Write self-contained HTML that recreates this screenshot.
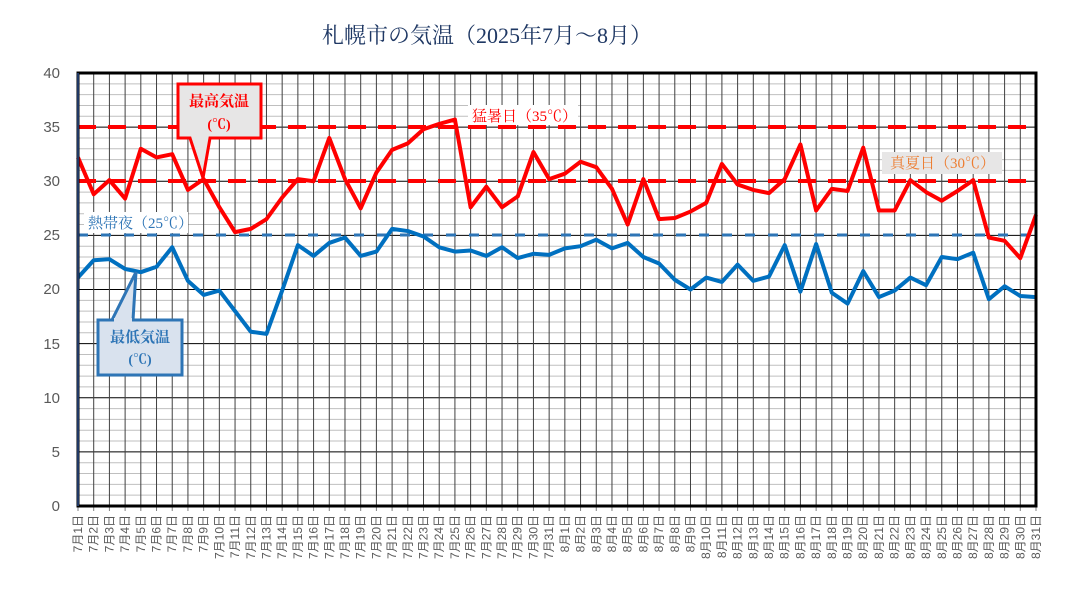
<!DOCTYPE html>
<html><head><meta charset="utf-8"><style>
body{margin:0;background:#fff;width:1074px;height:590px;overflow:hidden;font-family:"Liberation Serif","Noto Serif CJK SC",serif}
svg text{font-family:"Liberation Serif","Noto Serif CJK SC",serif}
svg .xl text{font-family:"Liberation Sans","Noto Sans CJK JP",sans-serif;font-size:12px;fill:#595959}
svg .yl text{font-family:"Liberation Sans",sans-serif;font-size:15px;fill:#595959}
</style></head><body>
<svg id="s" width="1074" height="590" xmlns="http://www.w3.org/2000/svg">
<text x="487" y="43" text-anchor="middle" font-size="22" fill="#1F3864">札幌市の気温（2025年7月～8月）</text>
<g id="grid"></g>
<g class="yl" text-anchor="end">
<text x="60" y="511">0</text><text x="60" y="457">5</text><text x="60" y="403">10</text><text x="60" y="349">15</text><text x="60" y="294">20</text><text x="60" y="240">25</text><text x="60" y="186">30</text><text x="60" y="132">35</text><text x="60" y="78">40</text>
</g>
<g id="xl" class="xl"></g>
<line x1="78" y1="127" x2="1036" y2="127" stroke="#FF0000" stroke-width="4" stroke-dasharray="18,12"/>
<line x1="78" y1="181" x2="1036" y2="181" stroke="#FF0000" stroke-width="4" stroke-dasharray="18,12"/>
<line x1="78" y1="235" x2="1036" y2="235" stroke="#2E75B6" stroke-width="3" stroke-dasharray="10,13"/>
<polyline id="hi" fill="none" stroke="#FF0000" stroke-width="4" stroke-linejoin="round"/>
<polyline id="lo" fill="none" stroke="#0070C0" stroke-width="4" stroke-linejoin="round"/>
<rect x="78" y="73" width="958" height="433" fill="none" stroke="#000" stroke-width="3"/>
<line x1="78" y1="73" x2="78" y2="506" stroke="#1F3864" stroke-width="2"/>
<rect x="468" y="105" width="110" height="20" fill="#fff"/>
<text x="472" y="121" font-size="15" fill="#FF0000">猛暑日（35℃）</text>
<rect x="882" y="152" width="120" height="22" fill="#E7E6E6"/>
<text x="890" y="168" font-size="15" fill="#ED7D31">真夏日（30℃）</text>
<rect x="84" y="212" width="104" height="21" fill="#fff"/>
<text x="88" y="228" font-size="15" fill="#2E75B6">熱帯夜（25℃）</text>
<path d="M178,84 H261 V138 H210 L203,178 L190,138 H178 Z" fill="#E7E6E6" stroke="#FF0000" stroke-width="3"/>
<text x="219" y="106" font-size="15" font-weight="bold" fill="#FF0000" text-anchor="middle" font-family="Liberation Sans,Noto Sans CJK JP,sans-serif">最高気温</text>
<text x="219" y="129" font-size="14" font-weight="bold" fill="#FF0000" text-anchor="middle">(℃)</text>
<path d="M98,320 H182 V375 H98 Z M112,320 L136,272 L133,320" fill="#D9E2EE" stroke="#2E75B6" stroke-width="3"/>
<rect x="114" y="318" width="18" height="4" fill="#D9E2EE"/>
<text x="140" y="342" font-size="15" font-weight="bold" fill="#2E75B6" text-anchor="middle" font-family="Liberation Sans,Noto Sans CJK JP,sans-serif">最低気温</text>
<text x="140" y="364" font-size="14" font-weight="bold" fill="#2E75B6" text-anchor="middle">(℃)</text>
</svg>
<script>
var hi=[32.2,28.8,30.1,28.4,33.0,32.2,32.5,29.2,30.2,27.6,25.3,25.6,26.5,28.5,30.2,30.0,34.0,30.2,27.5,30.8,32.9,33.5,34.8,35.3,35.7,27.6,29.5,27.6,28.6,32.7,30.2,30.7,31.8,31.3,29.3,26.0,30.2,26.5,26.6,27.2,28.0,31.6,29.7,29.2,28.9,30.2,33.4,27.3,29.3,29.1,33.1,27.3,27.3,30.1,29.0,28.2,29.1,30.1,24.8,24.5,22.9,26.9];
var lo=[21.1,22.7,22.8,21.9,21.6,22.1,23.9,20.8,19.5,19.9,18.0,16.1,15.9,19.9,24.1,23.1,24.3,24.8,23.1,23.5,25.6,25.4,24.9,23.9,23.5,23.6,23.1,23.9,22.9,23.3,23.2,23.8,24.0,24.6,23.8,24.3,23.0,22.4,20.9,20.0,21.1,20.7,22.3,20.8,21.2,24.1,19.8,24.2,19.7,18.7,21.7,19.3,19.9,21.1,20.4,23.0,22.8,23.4,19.1,20.3,19.4,19.3];
var X=function(i){return 78+i*(958/61)},Y=function(v){return 506-v*10.825};
var ns="http://www.w3.org/2000/svg",g=document.getElementById('grid');
function ln(x1,y1,x2,y2,c,w){var l=document.createElementNS(ns,'line');l.setAttribute('x1',x1);l.setAttribute('y1',y1);l.setAttribute('x2',x2);l.setAttribute('y2',y2);l.setAttribute('stroke',c);l.setAttribute('stroke-width',w);g.appendChild(l);}
for(var v=1;v<40;v++){ln(78,Y(v),1036,Y(v),v%5?'#BFBFBF':'#000',1);}
for(var i=1;i<61;i++){ln(X(i),73,X(i),506,'#404040',1);}
for(var i=0;i<62;i++){ln(X(i),506,X(i),511,'#808080',1);}
document.getElementById('hi').setAttribute('points',hi.map(function(v,i){return X(i)+','+Y(v)}).join(' '));
document.getElementById('lo').setAttribute('points',lo.map(function(v,i){return X(i)+','+Y(v)}).join(' '));
var xl=document.getElementById('xl');
for(var i=0;i<62;i++){var t=document.createElementNS(ns,'text');var m=i<31?7:8,d=i<31?i+1:i-30;t.textContent=m+'月'+d+'日';var x=X(i)+4;t.setAttribute('transform','translate('+x+',515) rotate(-90)');t.setAttribute('text-anchor','end');xl.appendChild(t);}
</script>
</body></html>
